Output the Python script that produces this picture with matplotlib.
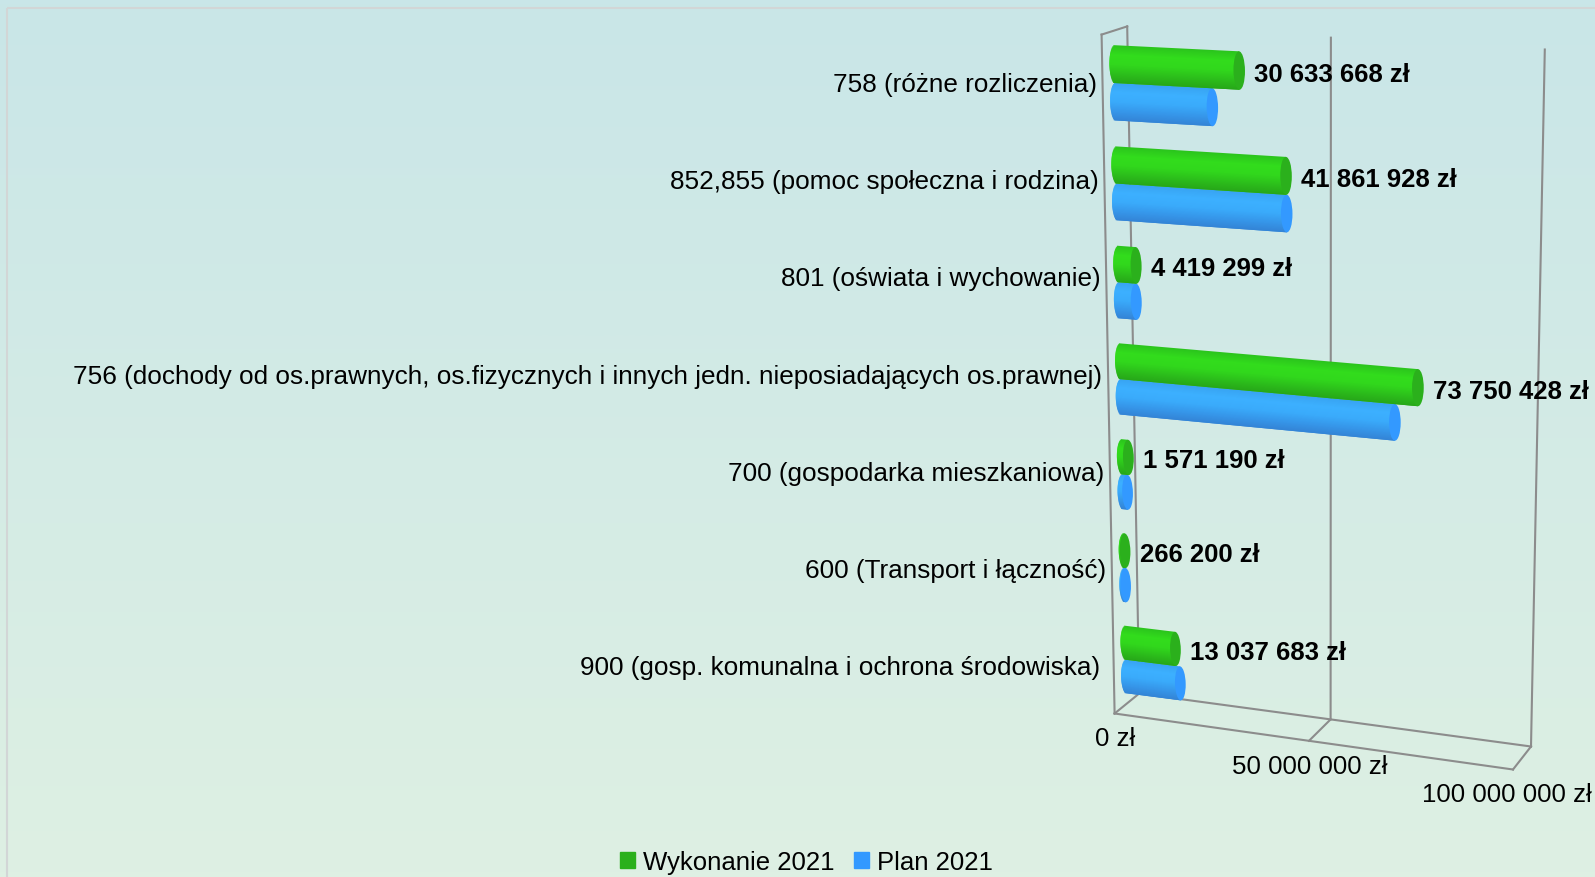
import numpy as np
import matplotlib
matplotlib.use("Agg")
import matplotlib.pyplot as plt
from matplotlib.colors import LinearSegmentedColormap
from matplotlib.patches import Ellipse, Patch, Rectangle
from matplotlib.transforms import Transform

plt.rcParams['font.family'] = ['Liberation Sans', 'DejaVu Sans']

# values, top row first
categories = [
    "758 (różne rozliczenia)",
    "852,855 (pomoc społeczna i rodzina)",
    "801 (oświata i wychowanie)",
    "756 (dochody od os.prawnych, os.fizycznych i innych jedn. nieposiadających os.prawnej)",
    "700 (gospodarka mieszkaniowa)",
    "600 (Transport i łączność)",
    "900 (gosp. komunalna i ochrona środowiska) ",
]
wykonanie_2021 = [30633668, 41861928, 4419299, 73750428, 1571190, 266200, 13037683]
plan_2021 = [24000000, 42000000, 4300000, 68300000, 1200000, 250000, 14200000]
value_labels = ["30 633 668 zł", "41 861 928 zł", "4 419 299 zł", "73 750 428 zł",
                "1 571 190 zł", "266 200 zł", "13 037 683 zł"]
axis_ticks = [0, 50000000, 100000000]
axis_labels = ["0 zł", "50 000 000 zł", "100 000 000 zł"]

VMAX = 100000000
NROWS = len(categories)


class PlaneTransform(Transform):
    # perspective mapping of (value, row) onto a quad of the picture
    input_dims = 2
    output_dims = 2

    def __init__(self, bl, br, tl, tr):
        super().__init__()
        src = [(0, 0), (1, 0), (0, 1), (1, 1)]
        dst = [bl, br, tl, tr]
        a = []
        b = []
        for (u, v), (x, y) in zip(src, dst):
            a.append([u, v, 1, 0, 0, 0, -u * x, -v * x])
            a.append([0, 0, 0, u, v, 1, -u * y, -v * y])
            b += [x, y]
        self.h = np.append(np.linalg.solve(np.array(a, float), np.array(b, float)), 1).reshape(3, 3)

    def transform_non_affine(self, values):
        values = np.asarray(values, float)
        uv = np.column_stack([values[:, 0] / VMAX, values[:, 1] / NROWS, np.ones(len(values))])
        out = uv @ self.h.T
        return out[:, :2] / out[:, 2:]


fig = plt.figure(figsize=(15.95, 8.78), dpi=100)
ax = fig.add_axes([0, 0, 1, 1])
ax.set_xlim(0, 1595)
ax.set_ylim(878, 0)
ax.autoscale(False)
ax.axis("off")

# background and chart border
bg = LinearSegmentedColormap.from_list("bg", ["#c9e6e8", "#def0e3"])
ax.imshow(np.linspace(0, 1, 256).reshape(-1, 1), cmap=bg, extent=(0, 1595, 878, 0),
          aspect="auto", zorder=0, interpolation="bilinear")
ax.add_patch(Rectangle((7, 9), 1700, 1000, fill=False, edgecolor="#d2d6d6", lw=1.5, zorder=1))

front = PlaneTransform((1114.6, 714.5), (1513, 770.5), (1101.6, 35.6), (1527, 59.5))
back = PlaneTransform((1139.2, 694.5), (1531, 747.5), (1127.2, 27.4), (1544.8, 50.5))
mid = PlaneTransform((1126.9, 706), (1522, 758), (1114.4, 33), (1536, 53))
# category labels sit on an even spacing, without the perspective
label_plane = PlaneTransform((1108.4, 716.8), (1508.4, 716.8), (1095.7, 36.3), (1495.7, 36.3))
mid_t = mid + ax.transData

# 3d frame
GRID = "#8c8c8c"
for t in axis_ticks:
    p0 = back.transform([[t, 0]])[0]
    p1 = back.transform([[t, NROWS]])[0]
    ax.plot([p0[0], p1[0]], [p0[1], p1[1]], color=GRID, lw=1.5, zorder=2)
    p2 = front.transform([[t, 0]])[0]
    ax.plot([p0[0], p2[0]], [p0[1], p2[1]], color=GRID, lw=1.5, zorder=2)
for plane in (front, back):
    p = plane.transform([[0, 0], [VMAX, 0]])
    ax.plot(p[:, 0], p[:, 1], color=GRID, lw=1.5, zorder=2)
p = front.transform([[0, 0], [0, NROWS]])
ax.plot(p[:, 0], p[:, 1], color=GRID, lw=1.5, zorder=2)
p = np.vstack([front.transform([[0, NROWS]]), back.transform([[0, NROWS]])])
ax.plot(p[:, 0], p[:, 1], color=GRID, lw=1.5, zorder=2)

# cylinders, strips overlap each other so no seams show
BAR_H = 0.372
CAP_R = 1400000
STRIPS = 34
green_shades = LinearSegmentedColormap.from_list(
    "g", ["#2bc41c", "#32dc1c", "#31d81c", "#2cbf1b", "#27a718"])
blue_shades = LinearSegmentedColormap.from_list(
    "b", ["#38a4f2", "#3cb0ff", "#3aabfb", "#3697ea", "#3384d6"])


def cylinder(y, value, shades, cap_color, z):
    top = y + BAR_H / 2
    step = BAR_H / STRIPS
    for i in range(STRIPS):
        s = (i + 0.5) / STRIPS
        left = -CAP_R * np.sqrt(1 - (2 * s - 1) ** 2)
        # reach one strip further down, the next one paints over it
        h = step * (2 if i < STRIPS - 1 else 1)
        ax.barh(top - i * step - h / 2, value - left, h, left=left, color=shades(s),
                edgecolor="none", transform=mid_t, zorder=z + i * 0.001)
    ax.add_patch(Ellipse((value, y), 2 * CAP_R, BAR_H, facecolor=cap_color,
                         edgecolor="none", transform=mid_t, zorder=z + 0.1))


for i in range(NROWS):
    row = NROWS - i - 0.5
    cylinder(row - 0.185, plan_2021[i], blue_shades, "#3399ff", 3 + i)
    cylinder(row + 0.185, wykonanie_2021[i], green_shades, "#2bb01c", 3.5 + i)
    ax.annotate(value_labels[i], xy=(wykonanie_2021[i], row + 0.185), xycoords=mid_t,
                xytext=(15, -3), textcoords="offset pixels", ha="left", va="center",
                fontsize=18.5, fontweight="bold", color="black", zorder=20)
    ax.annotate(categories[i], xy=(0, row), xycoords=label_plane + ax.transData,
                ha="right", va="center", fontsize=18.8, color="black", zorder=20)

# last label pulled in a little so it stays whole at the picture edge
tick_dx = [1, 1, -6]
for t, lab, dx in zip(axis_ticks, axis_labels, tick_dx):
    ax.annotate(lab, xy=(t, 0), xycoords=front + ax.transData, xytext=(dx, -25),
                textcoords="offset pixels", ha="center", va="center",
                fontsize=18.6, color="black", zorder=20, annotation_clip=False)

handles = [Patch(color="#2bb01c", label="Wykonanie 2021"), Patch(color="#3399ff", label="Plan 2021")]
fig.legend(handles=handles, ncol=2, loc="center", bbox_to_anchor=(806.5 / 1595, 1 - 863.5 / 878),
           frameon=False, fontsize=18.5, handlelength=0.58, handleheight=0.58,
           handletextpad=0.30, columnspacing=0.79, borderpad=0, labelcolor="black")

fig.savefig("out.png", dpi=100)
